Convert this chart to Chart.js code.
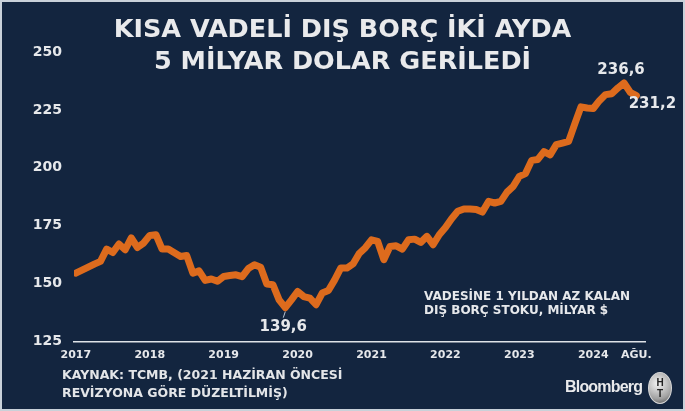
<!DOCTYPE html>
<html lang="tr">
<head>
  <meta charset="UTF-8">
  <title>Kısa vadeli dış borç</title>
  <style>
  html, body {
    margin: 0;
    padding: 0;
  }
  body {
    width: 685px;
    height: 411px;
    background: #13253f;
    position: relative;
    overflow: hidden;
    font-family: "DejaVu Sans", Verdana, sans-serif;
  }
  .frame {
    position: absolute;
    left: 0; top: 0;
    width: 681px; height: 407px;
    border: 2px solid #c9d1d9;
    pointer-events: none;
  }
  #chart-box {
    position: absolute;
    left: 0; top: 0;
    width: 685px; height: 411px;
  }
  .title {
    position: absolute;
    left: 0; top: 12px;
    width: 685px;
    text-align: center;
    color: #e9eaec;
    font-weight: bold;
    font-size: 25.5px;
    line-height: 32px;
  }
  .source {
    position: absolute;
    left: 62px; top: 366px;
    color: #e3e5e8;
    font-weight: bold;
    font-size: 12.5px;
    line-height: 18px;
  }
  .brand {
    position: absolute;
    left: 565px; top: 378px;
    color: #e9eaec;
    font-family: "Liberation Sans", Arial, sans-serif;
    font-weight: bold;
    font-size: 16px;
    letter-spacing: -0.8px;
  }
  .logo {
    position: absolute;
    left: 648px; top: 372px;
    width: 24px; height: 32px;
    border-radius: 50%;
    background: radial-gradient(circle at 40% 35%, #f4f4f4, #a0a0a0 65%, #4a4a4a 100%);
    border: 1px solid #d8d8d8;
    box-sizing: border-box;
    color: #222;
    font-family: "Liberation Sans", Arial, sans-serif;
    font-weight: bold;
    font-size: 10px;
    line-height: 11px;
    text-align: center;
    padding-top: 4px;
  }
  </style>
  <script src="https://cdn.jsdelivr.net/npm/chart.js"></script>
</head>
<body>
  <div id="chart-box"><canvas id="chart" width="685" height="411"></canvas></div>
  <div class="title">KISA VADELİ DIŞ BORÇ İKİ AYDA<br>5 MİLYAR DOLAR GERİLEDİ</div>
  <div class="source">KAYNAK: TCMB, (2021 HAZİRAN ÖNCESİ<br>REVİZYONA GÖRE DÜZELTİLMİŞ)</div>
  <div class="brand">Bloomberg</div>
  <div class="logo">H<br>T</div>
  <div class="frame"></div>

  <script>
    // monthly stock, Jan 2017 .. Aug 2024 (billion $)
    const debtStock = [
      154.5, 155.8, 157.1, 158.4, 159.6, 164.9, 163.4, 167.1, 164.6, 169.7, 165.6, 167.5,
      170.8, 171.1, 164.9, 164.9, 163.3, 161.7, 162.1, 154.5, 155.5, 151.4, 152.0, 151.0,
      153.1, 153.5, 153.8, 153.0, 156.5, 158.1, 157.1, 149.8, 149.5, 143.0, 139.6, 143.0,
      146.6, 144.4, 143.7, 140.9, 145.9, 147.0, 151.5, 156.7, 156.7, 158.5, 163.0, 165.5,
      168.9, 168.2, 160.3, 166.0, 166.3, 164.9, 168.9, 169.2, 167.8, 170.4, 166.8, 171.1,
      174.2, 178.0, 181.2, 182.2, 182.2, 182.0, 180.9, 185.5, 184.8, 185.5, 189.5, 192.0,
      196.3, 197.5, 203.2, 203.6, 207.0, 205.6, 210.0, 210.7, 211.4, 219.0, 226.3, 225.8,
      225.6, 229.0, 231.6, 232.0, 234.5, 236.6, 232.6, 231.2
    ];
    const months = debtStock.map((v, i) => i);

    const xTickPos = [0, 12, 24, 36, 48, 60, 72, 84, 91];
    const xTickLabels = ['2017', '2018', '2019', '2020', '2021', '2022', '2023', '2024', 'AĞU.'];
    const yTicks = [125, 150, 175, 200, 225, 250];

    // labelled points: [month index, text, dx, dy]
    const callouts = [
      [34, '139,6', -2, 19],
      [89, '236,6', -3, -13],
      [91, '231,2', 16, 9]
    ];
    const noteLines = ['VADESİNE 1 YILDAN AZ KALAN', 'DIŞ BORÇ STOKU, MİLYAR $'];

    const textColor = '#e6e8eb';
    const fontFam = '"DejaVu Sans", Verdana, sans-serif';

    const labelsPlugin = {
      id: 'labels',
      afterDatasetsDraw(chart) {
        const ctx = chart.ctx;
        const xs = chart.scales.x, ys = chart.scales.y;
        ctx.save();
        ctx.fillStyle = textColor;
        ctx.font = 'bold 15px ' + fontFam;
        ctx.textAlign = 'center';
        ctx.textBaseline = 'middle';
        callouts.forEach(([i, txt, dx, dy]) => {
          const px = xs.getPixelForValue(i);
          const py = ys.getPixelForValue(debtStock[i]);
          ctx.fillText(txt, px + dx, py + dy);
        });
        // leader line under the minimum
        const mx = xs.getPixelForValue(34), my = ys.getPixelForValue(debtStock[34]);
        ctx.strokeStyle = '#b9c7d6';
        ctx.lineWidth = 1;
        ctx.beginPath();
        ctx.moveTo(mx, my + 4);
        ctx.lineTo(mx - 2, my + 10);
        ctx.stroke();

        ctx.font = 'bold 12px ' + fontFam;
        ctx.textAlign = 'left';
        ctx.fillText(noteLines[0], 424, 297);
        ctx.fillText(noteLines[1], 424, 311);
        ctx.restore();
      }
    };

    new Chart(document.getElementById('chart'), {
      type: 'line',
      data: {
        labels: months,
        datasets: [{
          data: debtStock,
          borderColor: '#dd6b1d',
          borderWidth: 7,
          pointRadius: 0,
          tension: 0,
          borderJoinStyle: 'round',
          borderCapStyle: 'round',
          fill: false
        }]
      },
      options: {
        responsive: false,
        animation: false,
        events: [],
        layout: { padding: { top: 52, right: 40, left: 0, bottom: 0 } },
        plugins: { legend: { display: false }, tooltip: { enabled: false } },
        scales: {
          x: {
            type: 'linear',
            min: -0.3,
            max: 92.4,
            afterFit(scale) { scale.height = 69.5; },
            afterBuildTicks(scale) { scale.ticks = xTickPos.map(v => ({ value: v })); },
            grid: { display: false, drawTicks: false },
            border: { display: true, color: '#dfe3e8', width: 1.5 },
            ticks: {
              color: textColor,
              font: { family: fontFam, weight: 'bold', size: 11 },
              padding: 7,
              maxRotation: 0,
              autoSkip: false,
              callback: (v) => xTickLabels[xTickPos.indexOf(v)]
            }
          },
          y: {
            min: 125,
            max: 250,
            afterFit(scale) { scale.width = 74; },
            afterBuildTicks(scale) { scale.ticks = yTicks.map(v => ({ value: v })); },
            grid: { display: false, drawTicks: false },
            border: { display: false },
            ticks: {
              color: textColor,
              font: { family: fontFam, weight: 'bold', size: 14 },
              padding: 12
            }
          }
        }
      },
      plugins: [labelsPlugin]
    });
  </script>
</body>
</html>
